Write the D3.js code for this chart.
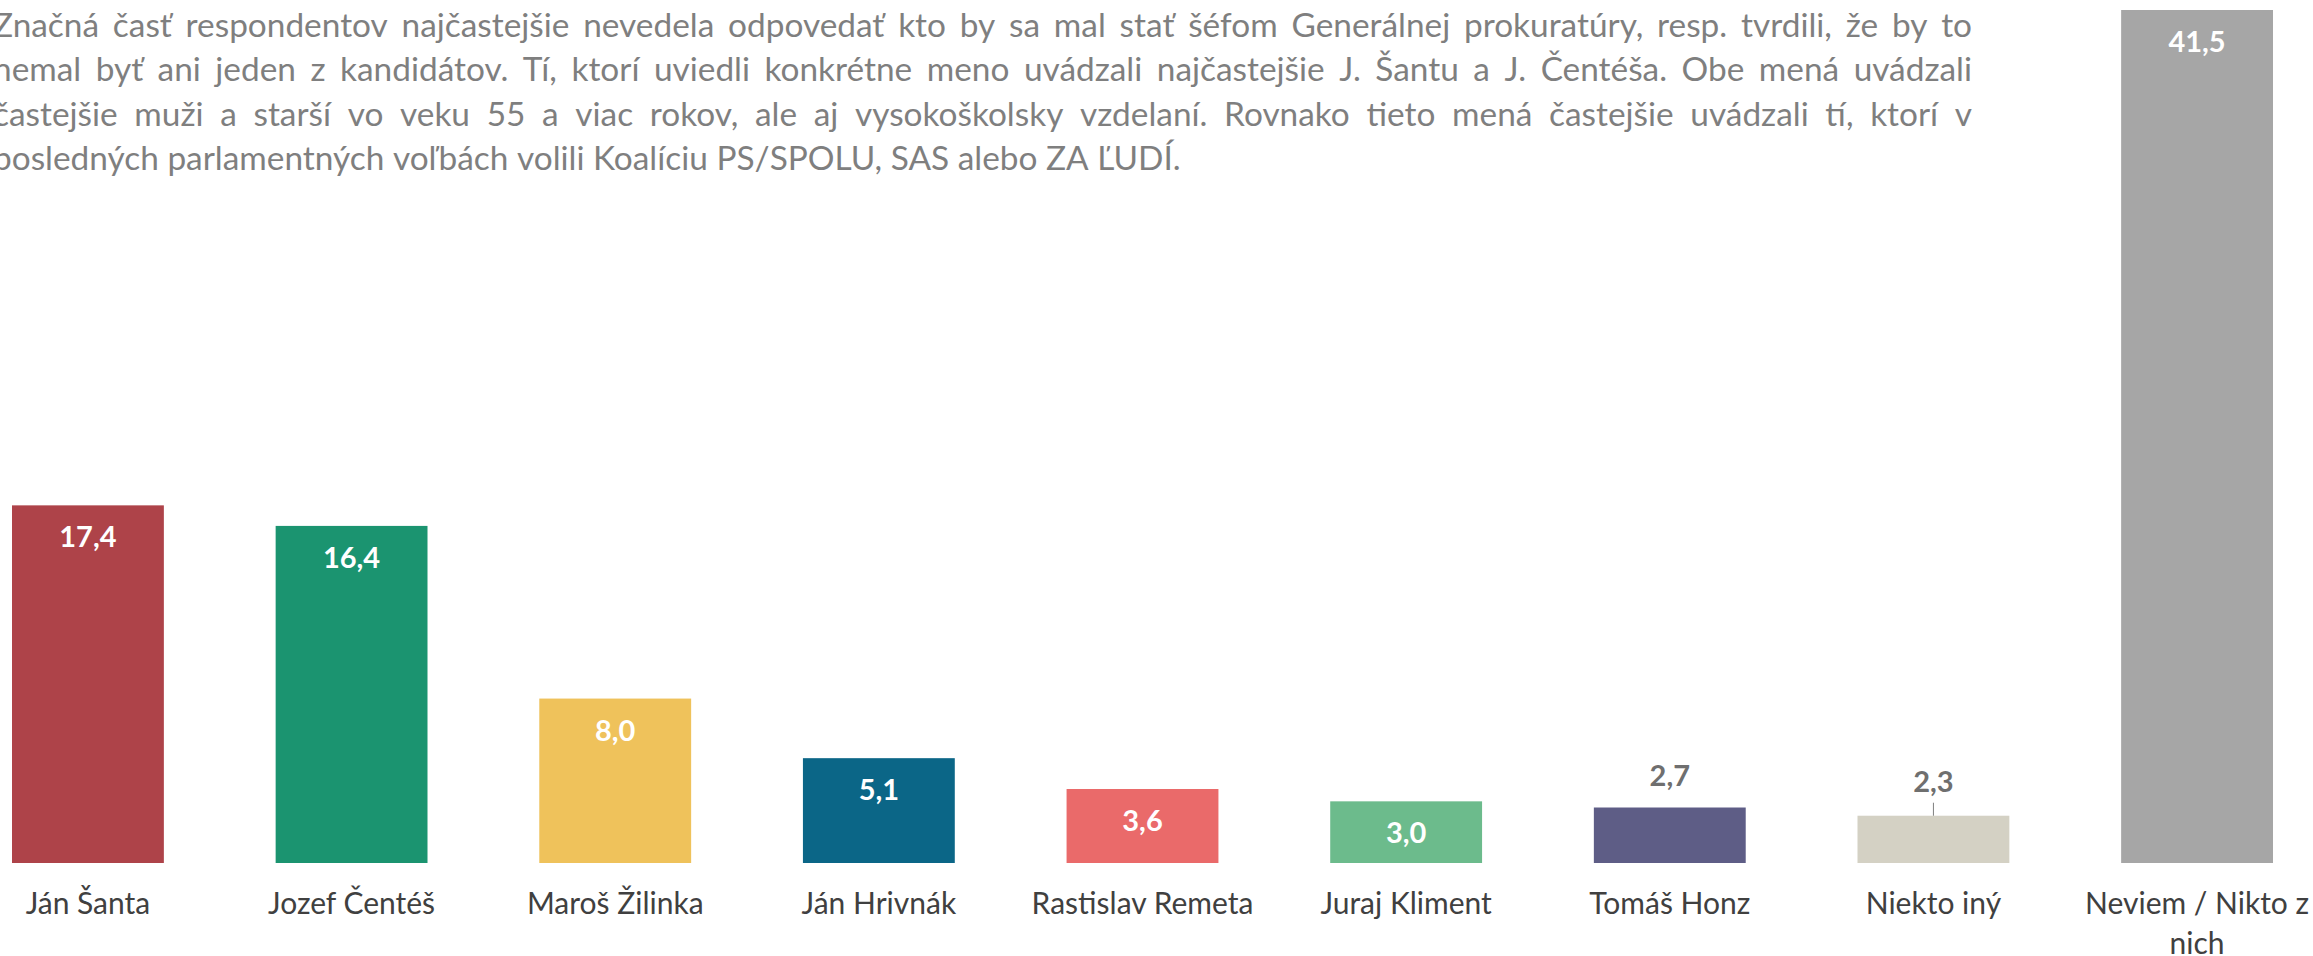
<!DOCTYPE html>
<html>
<head>
<meta charset="utf-8">
<script src="https://cdn.jsdelivr.net/npm/d3@7"></script>
<style>
  body { margin: 0; background: #fff; }
  svg { display: block; font-family: Lato, "Open Sans", sans-serif; }
</style>
</head>
<body>
<svg id="chart"></svg>
<script>
const WIDTH = 2313, HEIGHT = 956;

// data
const names = ["Ján Šanta", "Jozef Čentéš", "Maroš Žilinka", "Ján Hrivnák", "Rastislav Remeta",
               "Juraj Kliment", "Tomáš Honz", "Niekto iný", "Neviem / Nikto z nich"];
const shares = [17.4, 16.4, 8.0, 5.1, 3.6, 3.0, 2.7, 2.3, 41.5];
const barColors = ["#ae4349", "#1b9470", "#efc25b", "#0b6687", "#ea6a6a",
                   "#6cbb8c", "#5e5d86", "#d4d1c4", "#a6a6a6"];
const leaderNames = ["Niekto iný"];
const noteLines = [
  "Značná časť respondentov najčastejšie nevedela odpovedať kto by sa mal stať šéfom Generálnej prokuratúry, resp. tvrdili, že by to",
  "nemal byť ani jeden z kandidátov. Tí, ktorí uviedli konkrétne meno uvádzali najčastejšie J. Šantu a J. Čentéša. Obe mená uvádzali",
  "častejšie muži a starší vo veku 55 a viac rokov, ale aj vysokoškolsky vzdelaní. Rovnako tieto mená častejšie uvádzali tí, ktorí v",
  "posledných parlamentných voľbách volili Koalíciu PS/SPOLU, SAS alebo ZA ĽUDÍ."
];

const data = names.map((n, i) => ({ name: n, value: shares[i], color: barColors[i] }));

const svg = d3.select("#chart")
    .attr("width", WIDTH)
    .attr("height", HEIGHT);

let x = d3.scaleBand()
    .domain(names)
    .range([12, 2273])
    .paddingInner(0.424)
    .paddingOuter(0);

let y = d3.scaleLinear()
    .domain([0, d3.max(shares)])
    .range([863, 10]);

const fmt = v => d3.format(".1f")(v).replace(".", ",");

// note paragraph (justified, last line left aligned)
const noteLeft = -7, noteRight = 1972, noteTop = 37, noteLeading = 44.3;
const note = svg.append("g")
    .attr("fill", "#7f7f7f")
    .style("font-size", "33.4px");

const probe = note.append("text").text("a a");
const probe2 = note.append("text").text("aa");
const spaceWidth = probe.node().getComputedTextLength() - probe2.node().getComputedTextLength();
probe.remove(); probe2.remove();

noteLines.forEach((line, i) => {
    const words = line.split(" ");
    const texts = note.append("g").selectAll("text")
        .data(words)
        .join("text")
        .attr("y", noteTop + i * noteLeading)
        .text(d => d);
    const widths = texts.nodes().map(n => n.getComputedTextLength());
    const last = i === noteLines.length - 1;
    const gap = last ? spaceWidth : (noteRight - noteLeft - d3.sum(widths)) / (words.length - 1);
    let cx = noteLeft;
    texts.attr("x", (d, j) => { const v = cx; cx += widths[j] + gap; return v; });
});

// bars
svg.append("g")
    .selectAll("rect")
    .data(data)
    .join("rect")
    .attr("x", d => x(d.name))
    .attr("y", d => y(d.value))
    .attr("width", x.bandwidth())
    .attr("height", d => y(0) - y(d.value))
    .attr("fill", d => d.color);

// value labels
const inside = d => y(0) - y(d.value) > 58;
const hasLeader = d => leaderNames.includes(d.name);

svg.append("g")
    .style("font-size", "29px")
    .style("font-weight", "bold")
    .attr("text-anchor", "middle")
    .selectAll("text")
    .data(data)
    .join("text")
    .attr("x", d => x(d.name) + x.bandwidth() / 2)
    .attr("y", d => inside(d) ? y(d.value) + 42 : y(d.value) - (hasLeader(d) ? 24 : 22))
    .attr("fill", d => inside(d) ? "#ffffff" : "#6f6f6f")
    .text(d => fmt(d.value));

svg.append("g")
    .selectAll("line")
    .data(data.filter(hasLeader))
    .join("line")
    .attr("x1", d => x(d.name) + x.bandwidth() / 2)
    .attr("x2", d => x(d.name) + x.bandwidth() / 2)
    .attr("y1", d => y(d.value) - 13)
    .attr("y2", d => y(d.value))
    .attr("stroke", "#7f7f7f")
    .attr("stroke-width", 1);

// category labels
svg.append("g")
    .attr("transform", `translate(0,${y(0)})`)
    .call(d3.axisBottom(x).tickSize(0).tickPadding(0))
    .call(g => g.select(".domain").remove())
    .call(g => g.selectAll("text")
        .attr("fill", "#404040")
        .style("font-size", "30px")
        .style("font-family", "Lato, 'Open Sans', sans-serif")
        .attr("dy", null)
        .attr("y", 51)
        .call(wrap, x.step()));

function wrap(text, width) {
    text.each(function() {
        const t = d3.select(this);
        const words = t.text().split(/\s+/).reverse();
        const y0 = t.attr("y");
        let line = [], lineNo = 0, word;
        let tspan = t.text(null).append("tspan").attr("x", 0).attr("y", y0);
        while ((word = words.pop())) {
            line.push(word);
            tspan.text(line.join(" "));
            if (tspan.node().getComputedTextLength() > width && line.length > 1) {
                line.pop();
                tspan.text(line.join(" "));
                line = [word];
                lineNo++;
                tspan = t.append("tspan").attr("x", 0).attr("y", +y0 + lineNo * 40).text(word);
            }
        }
    });
}
</script>
</body>
</html>
